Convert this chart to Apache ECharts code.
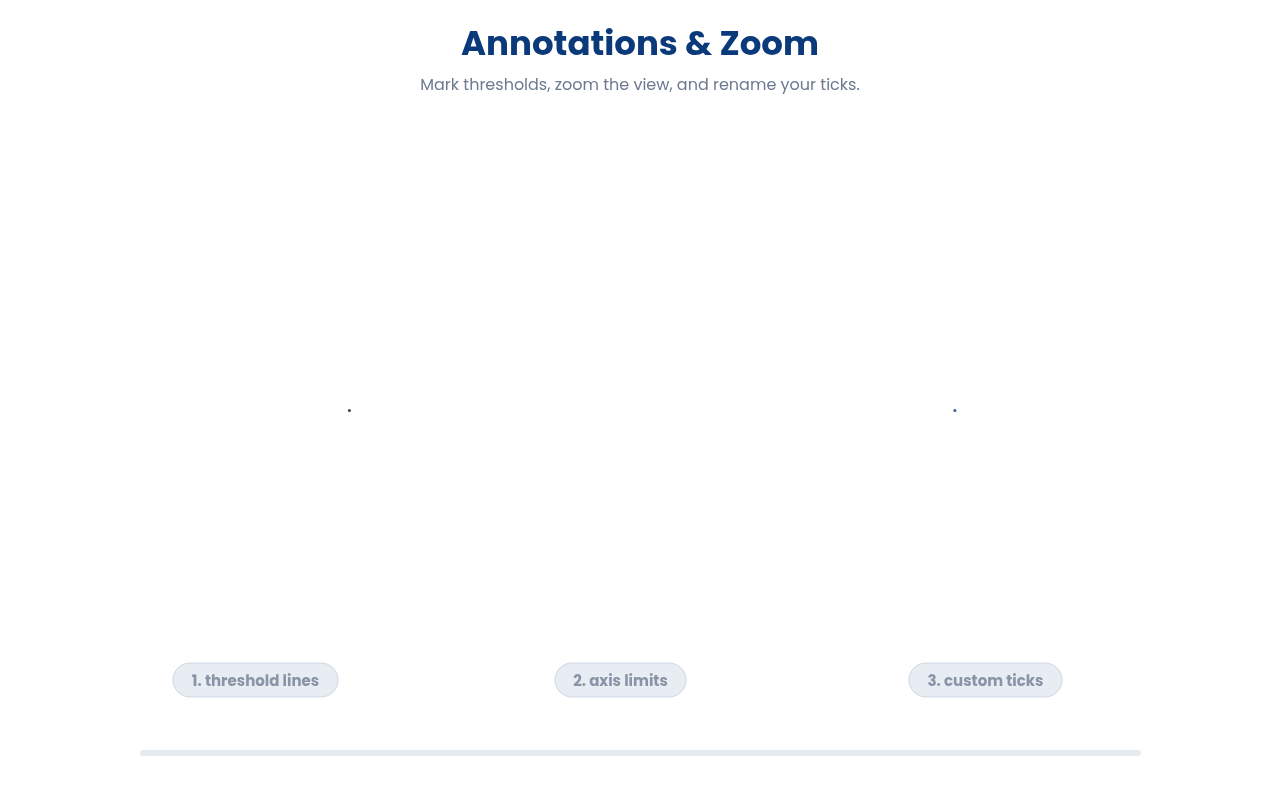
<!DOCTYPE html>
<html>
<head>
<meta charset="utf-8">
<title>Annotations & Zoom</title>
<script src="https://cdn.jsdelivr.net/npm/echarts@6/dist/echarts.min.js"></script>
<style>
	html, body { margin: 0; padding: 0; background: #ffffff; }
	#chart { width: 1280px; height: 800px; }
</style>
</head>
<body>
<div id="chart"></div>
<script>
// step labels shown in the pills
var stepLabels = ['1. threshold lines', '2. axis limits', '3. custom ticks'];
// the two points visible in this frame (x, y on a 0-100 scale)
var pointsLeft = [[27.3, 48.7]];
var pointsRight = [[74.6, 48.7]];

// pill boxes (left, width) in px - layout only
var pillLeft = [173, 555, 909];
var pillWidth = [165, 131, 153];

var FONT = 'Poppins, Inter, "Noto Sans", sans-serif';

var chart = echarts.init(document.getElementById('chart'));

// pills
var pills = [];
for (var i = 0; i < stepLabels.length; i++) {
	var w = pillWidth[i];
	pills.push({
		type: 'group',
		x: pillLeft[i],
		y: 663,
		children: [{
			type: 'rect',
			shape: { x: 0, y: 0, width: w, height: 34, r: 17 },
			style: { fill: '#e8ecf3', stroke: '#cdd6e3', lineWidth: 1 }
		}, {
			type: 'text',
			x: w / 2,
			y: 19,
			style: {
				text: stepLabels[i],
				align: 'center',
				verticalAlign: 'middle',
				fill: '#8994a7',
				font: 'bold 15px ' + FONT
			}
		}]
	});
}

var option = {
	backgroundColor: '#ffffff',
	animation: false,
	title: {
		left: 'center',
		top: 24,
		text: 'Annotations & Zoom',
		subtext: 'Mark thresholds, zoom the view, and rename your ticks.',
		itemGap: 15,
		textStyle: { color: '#0b3a7a', fontSize: 34, fontWeight: 'bold', fontFamily: FONT },
		subtextStyle: { color: '#6c7a90', fontSize: 16, fontFamily: FONT }
	},
	grid: { left: 0, right: 0, top: 0, bottom: 0 },
	xAxis: { type: 'value', min: 0, max: 100, show: false },
	yAxis: { type: 'value', min: 0, max: 100, show: false },
	series: [{
		type: 'scatter',
		symbolSize: 3,
		itemStyle: { color: '#11121f' },
		data: pointsLeft
	}, {
		type: 'scatter',
		symbolSize: 3,
		itemStyle: { color: '#0a3478' },
		data: pointsRight
	}],
	graphic: pills.concat([{
		type: 'rect',
		shape: { x: 140, y: 750, width: 1001, height: 6, r: 3 },
		style: { fill: '#e6eaf1' }
	}])
};

chart.setOption(option);
</script>
</body>
</html>
